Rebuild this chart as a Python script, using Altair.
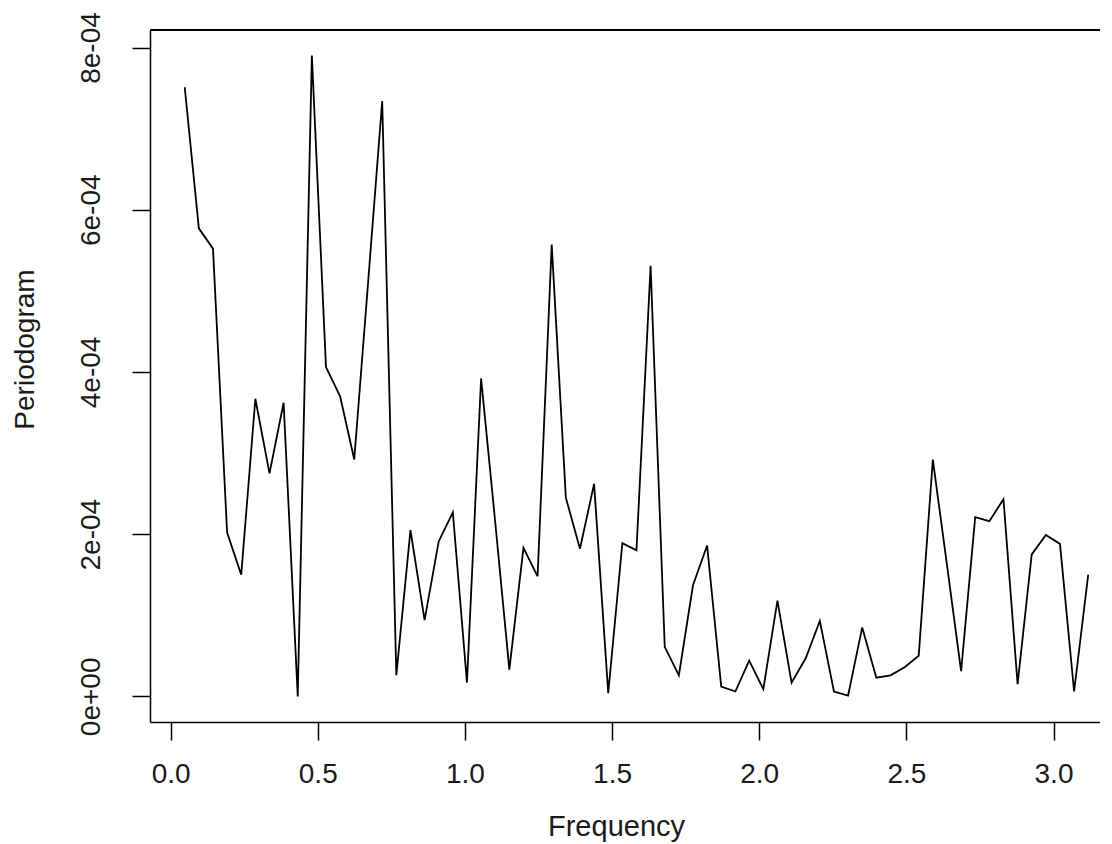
import altair as alt
import pandas as pd

# Fourier frequencies (radians)
freq = [0.048, 0.096, 0.144, 0.192, 0.240, 0.288, 0.336, 0.384, 0.432, 0.480,
        0.528, 0.576, 0.624, 0.671, 0.719, 0.767, 0.815, 0.863, 0.911, 0.959,
        1.007, 1.055, 1.103, 1.151, 1.199, 1.247, 1.295, 1.343, 1.391, 1.439,
        1.487, 1.535, 1.583, 1.631, 1.679, 1.727, 1.775, 1.823, 1.871, 1.919,
        1.966, 2.014, 2.062, 2.110, 2.158, 2.206, 2.254, 2.302, 2.350, 2.398,
        2.446, 2.494, 2.542, 2.590, 2.638, 2.686, 2.734, 2.782, 2.830, 2.878,
        2.926, 2.974, 3.022, 3.070, 3.118]

# periodogram ordinates, in units of 1e-4
pgram_e4 = [7.51, 5.77, 5.52, 2.02, 1.50, 3.67, 2.75, 3.62, 0.00, 7.90,
            4.06, 3.70, 2.92, 5.10, 7.34, 0.26, 2.05, 0.94, 1.91, 2.27,
            0.17, 3.92, 2.15, 0.33, 1.83, 1.48, 5.57, 2.45, 1.82, 2.62,
            0.04, 1.89, 1.80, 5.31, 0.61, 0.26, 1.37, 1.86, 0.12, 0.06,
            0.44, 0.09, 1.18, 0.17, 0.47, 0.93, 0.06, 0.01, 0.85, 0.23,
            0.26, 0.36, 0.50, 2.92, 1.62, 0.31, 2.21, 2.16, 2.43, 0.15,
            1.75, 1.99, 1.88, 0.06, 1.50]

x_ticks = [0.0, 0.5, 1.0, 1.5, 2.0, 2.5, 3.0]
y_ticks = [0.0, 2e-4, 4e-4, 6e-4, 8e-4]

df = pd.DataFrame({"freq": freq, "pgram": [v * 1e-4 for v in pgram_e4]})

W, H = 950, 692
FONT = "Liberation Sans"
TXT = "#1a1a1a"

line = alt.Chart(df).mark_line(color="black", strokeWidth=1.8, clip=True).encode(
    x=alt.X("freq:Q",
            scale=alt.Scale(domain=[-0.07, 3.158], nice=False, zero=False),
            axis=alt.Axis(values=x_ticks, format=".1f", title="Frequency",
                          grid=False, tickSize=18, tickWidth=1.5, tickColor="black",
                          domainColor="black", domainWidth=1.5,
                          labelFont=FONT, labelFontSize=28, labelColor=TXT,
                          labelPadding=20, labelFlush=False, labelOverlap=False,
                          titleFont=FONT, titleFontSize=29, titleFontWeight="normal",
                          titleColor=TXT, titleX=466, titleY=104,
                          titleBaseline="middle", titleAlign="center")),
    y=alt.Y("pgram:Q",
            scale=alt.Scale(domain=[-0.316e-4, 8.216e-4], nice=False, zero=False),
            axis=alt.Axis(values=y_ticks, title="Periodogram",
                          labelExpr="datum.value == 0 ? '0e+00' : format(round(datum.value*1e4), 'd') + 'e-04'",
                          grid=False, tickSize=18, tickWidth=1.5, tickColor="black",
                          domainColor="black", domainWidth=1.5,
                          labelFont=FONT, labelFontSize=28, labelColor=TXT,
                          labelAngle=270, labelAlign="center", labelBaseline="bottom",
                          labelPadding=27, labelFlush=False, labelOverlap=False,
                          titleFont=FONT, titleFontSize=28, titleFontWeight="normal",
                          titleColor=TXT, titleAngle=270, titleX=-125, titleY=319,
                          titleBaseline="middle", titleAlign="center")),
)

top_border = alt.Chart(df).mark_rule(color="black", strokeWidth=1.5).encode(
    x=alt.value(0), x2=alt.value(W + 10), y=alt.value(0)
)

chart = alt.layer(line, top_border).properties(
    width=W, height=H,
    autosize=alt.AutoSizeParams(type="none"),
    padding={"left": 142, "top": 22, "right": 0, "bottom": 120},
).configure_view(stroke=None).configure(background="white")

chart.save("out.html", embed_options={"renderer": "svg", "actions": False})
